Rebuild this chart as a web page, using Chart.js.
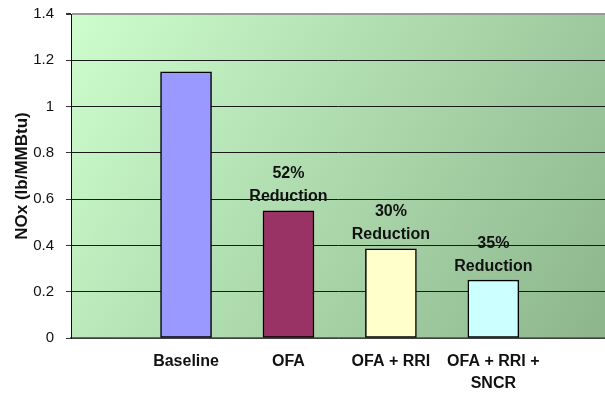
<!DOCTYPE html>
<html>
<head>
<meta charset="utf-8">
<script src="https://cdn.jsdelivr.net/npm/chart.js@4"></script>
<style>
  html, body { margin: 0; padding: 0; background: #fff; }
  #wrap { width: 605px; height: 394px; }
</style>
</head>
<body>
<div id="wrap"><canvas id="noxChart"></canvas></div>
<script>
// chart data
const categories = ['Baseline', 'OFA', 'OFA + RRI', ['OFA + RRI +', 'SNCR']];
const positions = [1, 2, 3, 4];
const noxValues = [1.15, 0.55, 0.385, 0.25];
const reductionLabels = ['', '52%\nReduction', '30%\nReduction', '35%\nReduction'];
const barColors = ['#9999FF', '#993366', '#FFFFCC', '#CCFFFF'];
const yTicks = [0, 0.2, 0.4, 0.6, 0.8, 1, 1.2, 1.4];

const FONT = 'Arial, "Liberation Sans", sans-serif';

// gradient fill behind the plot area
const plotBackground = {
    id: 'plotBackground',
    beforeDraw(chart) {
        const { ctx, chartArea: a } = chart;
        const g = ctx.createLinearGradient(a.left, a.top, a.right, a.bottom);
        g.addColorStop(0, '#CDFDCD');
        g.addColorStop(1, '#8CB58C');
        ctx.save();
        ctx.fillStyle = g;
        ctx.fillRect(a.left, a.top, a.right - a.left, a.bottom - a.top);
        ctx.restore();
    }
};

// "xx% Reduction" text above bars
const reductionText = {
    id: 'reductionText',
    afterDatasetsDraw(chart) {
        const { ctx } = chart;
        const meta = chart.getDatasetMeta(0);
        ctx.save();
        ctx.font = 'bold 16px ' + FONT;
        ctx.fillStyle = '#111';
        ctx.textAlign = 'center';
        ctx.textBaseline = 'middle';
        meta.data.forEach((bar, i) => {
            const lines = reductionLabels[i].split('\n');
            if (!lines[0]) return;
            let y = bar.y - 14;
            for (let j = lines.length - 1; j >= 0; j--) {
                ctx.fillText(lines[j], bar.x, y);
                y -= 23;
            }
        });
        ctx.restore();
    }
};

new Chart(document.getElementById('noxChart'), {
    type: 'bar',
    data: {
        datasets: [{
            data: positions.map((p, i) => ({ x: p, y: noxValues[i] })),
            backgroundColor: barColors,
            borderColor: '#000',
            borderWidth: 1.5,
            borderSkipped: false,
            barThickness: 51
        }]
    },
    options: {
        responsive: true,
        maintainAspectRatio: false,
        animation: false,
        layout: { padding: { top: 14, right: 0, left: 12, bottom: 0 } },
        plugins: {
            legend: { display: false },
            tooltip: { enabled: false }
        },
        scales: {
            x: {
                type: 'linear',
                offset: false,
                min: -0.123,
                max: 5.09,
                afterBuildTicks: (scale) => {
                    scale.ticks = positions.map(v => ({ value: v }));
                },
                afterFit: (scale) => {
                    scale.height = 56;
                    scale.paddingTop = 0;
                    scale.paddingBottom = 0;
                },
                ticks: {
                    callback: (v) => categories[positions.indexOf(v)],
                    font: { family: FONT, size: 16, weight: 'bold', lineHeight: 1.4 },
                    color: '#111',
                    padding: 4,
                    maxRotation: 0,
                    autoSkip: false
                },
                grid: { display: false },
                border: { color: '#666', width: 1.5 }
            },
            y: {
                min: 0,
                max: 1.4,
                afterBuildTicks: (scale) => {
                    scale.ticks = yTicks.map(v => ({ value: v }));
                },
                afterFit: (scale) => {
                    scale.width = 59;
                    scale.paddingTop = 0;
                    scale.paddingBottom = 0;
                },
                ticks: {
                    callback: (v) => String(v),
                    font: { family: FONT, size: 15 },
                    color: '#111',
                    padding: 12
                },
                grid: {
                    color: (c) => (c.tick && c.tick.value === 1.4 ? '#999' : '#1a1a1a'),
                    lineWidth: (c) => (c.tick && c.tick.value === 1.4 ? 2 : 1),
                    tickLength: 5,
                    tickColor: '#333'
                },
                border: { color: '#111', width: 1 },
                title: {
                    display: true,
                    text: 'NOx (lb/MMBtu)',
                    font: { family: FONT, size: 17, weight: 'bold' },
                    color: '#111',
                    padding: { top: 0, bottom: 2 }
                }
            }
        }
    },
    plugins: [plotBackground, reductionText]
});
</script>
</body>
</html>
